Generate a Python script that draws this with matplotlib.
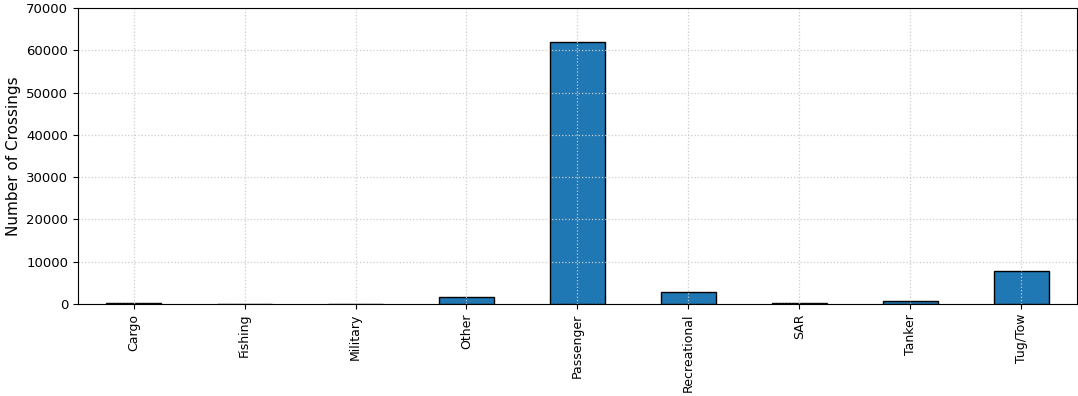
import matplotlib
matplotlib.use("Agg")
import matplotlib.pyplot as plt
import numpy as np

# Vessel categories and their crossing counts
categories = ["Cargo", "Fishing", "Military", "Other", "Passenger",
              "Recreational", "SAR", "Tanker", "Tug/Tow"]
crossings = [200, 0, 0, 1800, 62000, 2900, 250, 800, 7800]

fig = plt.figure(figsize=(10.78, 3.96), dpi=100)
ax = fig.add_axes([0.0724, 0.232, 0.9266, 0.748])

x = np.arange(len(categories))
ax.bar(x, crossings, width=0.5, color="#1f77b4", edgecolor="black",
       linewidth=1.0, zorder=1)

ax.set_xlim(-0.5, len(categories) - 0.5)
ax.set_ylim(0, 70000)
ax.set_yticks(np.arange(0, 70001, 10000))
ax.set_xticks(x)
ax.set_xticklabels(categories, rotation=90, fontsize=9)
ax.tick_params(axis="y", labelsize=9.5)
ax.set_ylabel("Number of Crossings", fontsize=11)

# grid over the bars but beneath the frame
ax.set_axisbelow("line")
ax.grid(True, linestyle=":", color="#cccccc", linewidth=0.9)

fig.savefig("out.png", dpi=100)
